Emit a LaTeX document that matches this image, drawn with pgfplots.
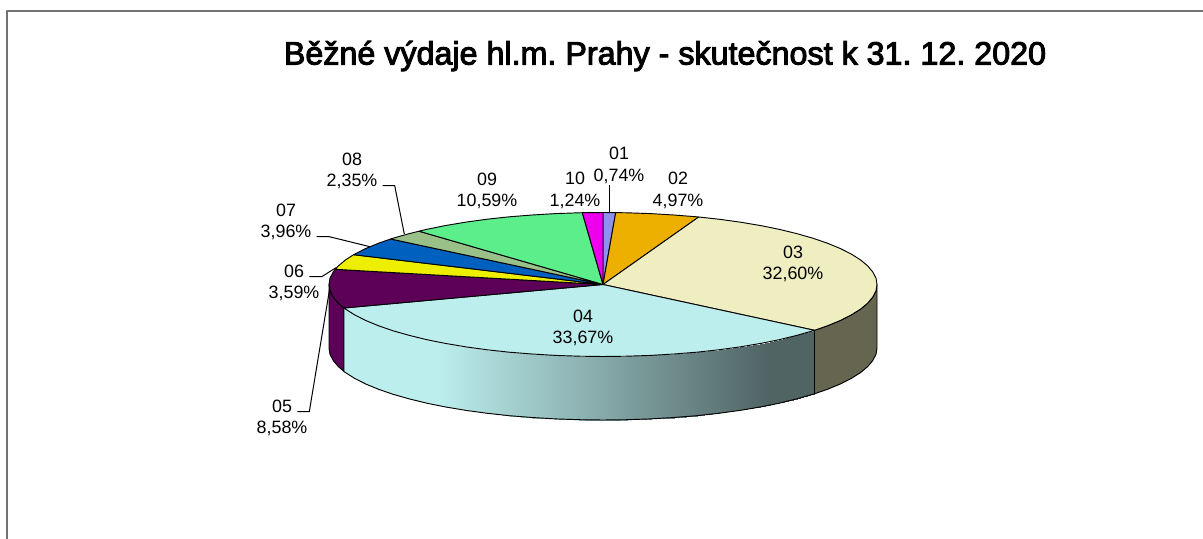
\documentclass[border=0pt]{standalone}
\usepackage{pgfplots}
\pgfplotsset{compat=1.18}
\usepackage{fontspec}
\setmainfont{Liberation Sans}
\newfontfamily\titlefont[FakeBold=3]{Liberation Sans}
\frenchspacing
\definecolor{c01}{RGB}{144,144,238}
\definecolor{c02}{RGB}{238,176,0}
\definecolor{c03}{RGB}{238,238,192}
\definecolor{c04}{RGB}{188,238,238}
\definecolor{c05}{RGB}{92,0,88}
\definecolor{c06}{RGB}{238,238,0}
\definecolor{c07}{RGB}{0,96,192}
\definecolor{c08}{RGB}{153,192,136}
\definecolor{c09}{RGB}{93,238,140}
\definecolor{c10}{RGB}{238,0,238}
\definecolor{s03}{RGB}{102,102,80}
\pgfplotsset{colormap={sidegrad}{rgb255=(188,238,238) rgb255=(188,238,238) rgb255=(188,238,238) rgb255=(173,218,218) rgb255=(157,199,199) rgb255=(142,179,179) rgb255=(126,159,159) rgb255=(111,139,139) rgb255=(95,120,120) rgb255=(80,100,100) rgb255=(80,100,100)}}
\tikzset{
  wedge/.style={draw=black, line width=0.7pt, fill=#1},
  lead/.style={draw=black, line width=0.75pt, no markers},
  lab/.style={font=\fontsize{13.4}{16}\selectfont, align=center, inner sep=0pt, anchor=center}
}
\begin{document}
\begin{tikzpicture}
\useasboundingbox (0,0) rectangle (902.25pt,404.25pt);
\begin{axis}[
  at={(0,0)}, anchor=south west,
  scale only axis, width=902.25pt, height=404.25pt,
  xmin=0, xmax=1203, ymin=0, ymax=539, y dir=reverse,
  hide axis, clip=true,
  every axis plot/.append style={line join=round}
]
% frame
\addplot[draw=gray!90!black, line width=1.4pt, no markers] coordinates {(7,539) (7,11) (1203,11)};
% sides
\addplot[wedge=c05] coordinates {(329.0,284.5)(330.0,290.8)(333.2,297.0)(338.3,303.1)(344,308)(344,371.5)(338.3,366.6)(333.2,360.5)(330.0,354.3)(329.0,348.0)} -- cycle;
\addplot[wedge=s03] coordinates {(814.5,330.3)(827.4,325.8)(840.3,320.5)(851.3,314.9)(860.5,309.1)(867.7,303.1)(872.8,297.0)(876.0,290.8)(877.0,284.5)(877.0,348.0)(876.0,354.3)(872.8,360.5)(867.7,366.6)(860.5,372.6)(851.3,378.4)(840.3,384.0)(827.4,389.3)(814.5,393.8)} -- cycle;
\addplot[surf, shader=interp, mesh/rows=2, colormap name=sidegrad, point meta=x, point meta min=344, point meta max=814.5] table[row sep=\\] {
x y\\
344 308\\ 345.5 309.1\\ 354.7 314.9\\ 365.7 320.5\\ 378.6 325.8\\ 393.1 330.8\\ 409.3 335.4\\ 426.9 339.7\\ 445.8 343.5\\ 466.0 346.9\\ 487.2 349.8\\ 509.3 352.2\\ 532.1 354.0\\ 555.4 355.4\\ 579.1 356.2\\ 603 356.5\\ 626.9 356.2\\ 650.6 355.4\\ 673.9 354.0\\ 696.7 352.2\\ 718.8 349.8\\ 740.0 346.9\\ 760.2 343.5\\ 779.1 339.7\\ 796.7 335.4\\ 812.9 330.8\\ 814.5 330.3\\
344 371.5\\ 345.5 372.6\\ 354.7 378.4\\ 365.7 384.0\\ 378.6 389.3\\ 393.1 394.3\\ 409.3 398.9\\ 426.9 403.2\\ 445.8 407.0\\ 466.0 410.4\\ 487.2 413.3\\ 509.3 415.7\\ 532.1 417.5\\ 555.4 418.9\\ 579.1 419.7\\ 603 420.0\\ 626.9 419.7\\ 650.6 418.9\\ 673.9 417.5\\ 696.7 415.7\\ 718.8 413.3\\ 740.0 410.4\\ 760.2 407.0\\ 779.1 403.2\\ 796.7 398.9\\ 812.9 394.3\\ 814.5 393.8\\
};
\addplot[draw=black, line width=0.7pt, fill=none] coordinates {(344,308)(344,371.5)(345.5,372.6)(354.7,378.4)(365.7,384.0)(378.6,389.3)(393.1,394.3)(409.3,398.9)(426.9,403.2)(445.8,407.0)(466.0,410.4)(487.2,413.3)(509.3,415.7)(532.1,417.5)(555.4,418.9)(579.1,419.7)(603,420.0)(626.9,419.7)(650.6,418.9)(673.9,417.5)(696.7,415.7)(718.8,413.3)(740.0,410.4)(760.2,407.0)(779.1,403.2)(796.7,398.9)(812.9,394.3)(814.5,393.8)(814.5,330.3)};
% top wedges
\addplot[wedge=c01] coordinates {(603,284.5)(603,212.5)(615.7,212.6)} -- cycle;
\addplot[wedge=c02] coordinates {(603,284.5)(615.7,212.6)(626.9,212.8)(650.6,213.6)(673.9,215.0)(696.7,216.8)(698.7,217.0)} -- cycle;
\addplot[wedge=c03] coordinates {(603,284.5)(698.7,217.0)(718.8,219.2)(740.0,222.1)(760.2,225.5)(779.1,229.3)(796.7,233.6)(812.9,238.2)(827.4,243.2)(840.3,248.5)(851.3,254.1)(860.5,259.9)(867.7,265.9)(872.8,272.0)(876.0,278.2)(877.0,284.5)(876.0,290.8)(872.8,297.0)(867.7,303.1)(860.5,309.1)(851.3,314.9)(840.3,320.5)(827.4,325.8)(814.5,330.3)} -- cycle;
\addplot[wedge=c04] coordinates {(603,284.5)(814.5,330.3)(812.9,330.8)(796.7,335.4)(779.1,339.7)(760.2,343.5)(740.0,346.9)(718.8,349.8)(696.7,352.2)(673.9,354.0)(650.6,355.4)(626.9,356.2)(603,356.5)(579.1,356.2)(555.4,355.4)(532.1,354.0)(509.3,352.2)(487.2,349.8)(466.0,346.9)(445.8,343.5)(426.9,339.7)(409.3,335.4)(393.1,330.8)(378.6,325.8)(365.7,320.5)(354.7,314.9)(345.5,309.1)(344,308)} -- cycle;
\addplot[wedge=c05] coordinates {(603,284.5)(344,308)(338.3,303.1)(333.2,297.0)(330.0,290.8)(329.0,284.5)(330.0,278.2)(333.2,272.0)(335.2,269.3)} -- cycle;
\addplot[wedge=c06] coordinates {(603,284.5)(335.2,269.3)(338.3,265.9)(345.5,259.9)(353.6,254.7)} -- cycle;
\addplot[wedge=c07] coordinates {(603,284.5)(353.6,254.7)(365.7,248.5)(378.6,243.2)(390.7,239)} -- cycle;
\addplot[wedge=c08] coordinates {(603,284.5)(390.7,239)(393.1,238.2)(409.3,233.6)(419,231.2)} -- cycle;
\addplot[wedge=c09] coordinates {(603,284.5)(419,231.2)(426.9,229.3)(445.8,225.5)(466.0,222.1)(487.2,219.2)(509.3,216.8)(532.1,215.0)(555.4,213.6)(579.1,212.8)(582.3,212.7)} -- cycle;
\addplot[wedge=c10] coordinates {(603,284.5)(582.3,212.7)(603,212.5)} -- cycle;
% leaders
\addplot[lead] coordinates {(382.7,185.7)(394.7,185.7)(404.3,234)};
\addplot[lead] coordinates {(316.7,236.7)(329.3,236.7)(370,246.7)};
\addplot[lead] coordinates {(309.3,276.7)(321.7,276.7)(336,267.7)};
\addplot[lead] coordinates {(297.3,411.7)(309.3,411.7)(330,286.7)};
\addplot[lead] coordinates {(609.3,185)(609.3,212.7)};
% text
\node[font=\titlefont\fontsize{24.2}{28}\selectfont, inner sep=0pt] at (axis cs:665,56) {Běžné výdaje hl.m. Prahy - skutečnost k 31. 12. 2020};
\node[lab] at (axis cs:619,165.5) {01\\0,74\%};
\node[lab] at (axis cs:678,190.5) {02\\4,97\%};
\node[lab] at (axis cs:793,264) {03\\32,60\%};
\node[lab] at (axis cs:583,328) {04\\33,67\%};
\node[lab] at (axis cs:282,418) {05\\8,58\%};
\node[lab] at (axis cs:294,283) {06\\3,59\%};
\node[lab] at (axis cs:286,222) {07\\3,96\%};
\node[lab] at (axis cs:352,171) {08\\2,35\%};
\node[lab] at (axis cs:487,191) {09\\10,59\%};
\node[lab] at (axis cs:575,190.5) {10\\1,24\%};
\end{axis}
\end{tikzpicture}
\end{document}
